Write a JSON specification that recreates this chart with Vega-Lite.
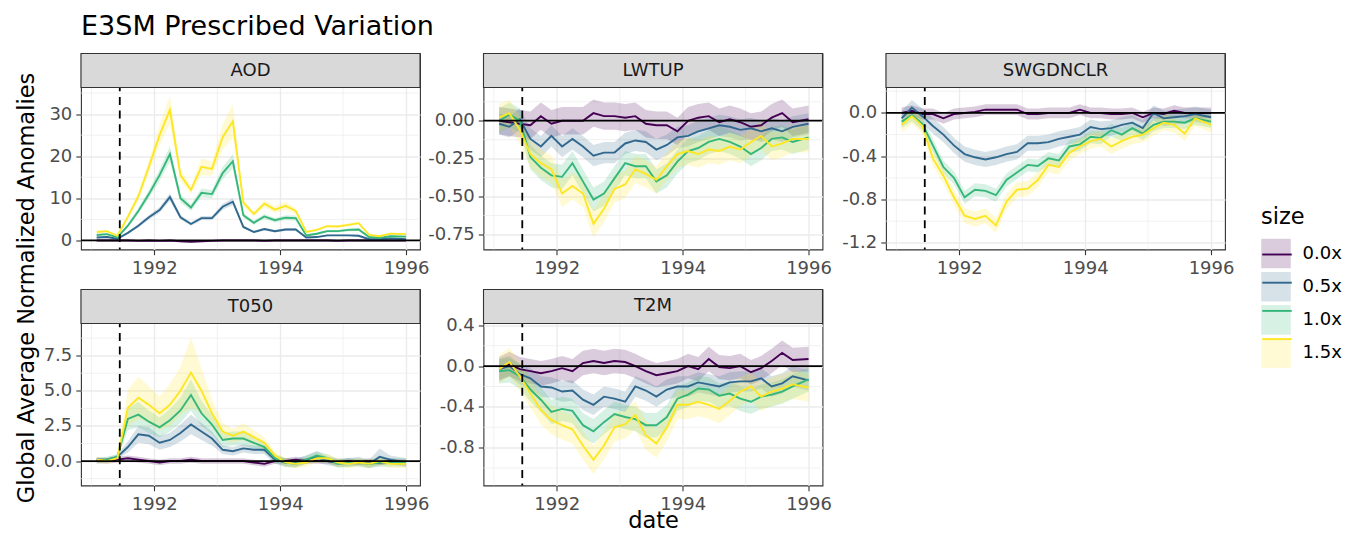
{
  "$schema": "https://vega.github.io/schema/vega-lite/v6.json",
  "background": "white",
  "padding": {"left": 14, "top": 12.5, "right": 5, "bottom": 5},
  "title": {"text": "E3SM Prescribed Variation", "anchor": "start", "frame": "group", "fontSize": 27, "fontWeight": "normal", "color": "black", "offset": 11.5},
  "datasets": {
    "AOD": [
      {"s":"0.0x","t":"1991-02","m":0,"l":-0.25,"h":0.25},{"s":"0.0x","t":"1991-04","m":0,"l":-0.25,"h":0.25},{"s":"0.0x","t":"1991-06","m":0,"l":-0.25,"h":0.25},{"s":"0.0x","t":"1991-08","m":0,"l":-0.25,"h":0.25},{"s":"0.0x","t":"1991-10","m":-0.1,"l":-0.35,"h":0.15},{"s":"0.0x","t":"1991-12","m":0,"l":-0.25,"h":0.25},{"s":"0.0x","t":"1992-02","m":-0.1,"l":-0.35,"h":0.15},{"s":"0.0x","t":"1992-04","m":0,"l":-0.25,"h":0.25},{"s":"0.0x","t":"1992-06","m":-0.2,"l":-0.45,"h":0.05},{"s":"0.0x","t":"1992-08","m":-0.3,"l":-0.55,"h":-0.05},{"s":"0.0x","t":"1992-10","m":-0.2,"l":-0.45,"h":0.05},{"s":"0.0x","t":"1992-12","m":-0.1,"l":-0.35,"h":0.15},{"s":"0.0x","t":"1993-02","m":0,"l":-0.25,"h":0.25},{"s":"0.0x","t":"1993-04","m":0,"l":-0.25,"h":0.25},{"s":"0.0x","t":"1993-06","m":0,"l":-0.25,"h":0.25},{"s":"0.0x","t":"1993-08","m":0,"l":-0.25,"h":0.25},{"s":"0.0x","t":"1993-10","m":-0.1,"l":-0.35,"h":0.15},{"s":"0.0x","t":"1993-12","m":0,"l":-0.25,"h":0.25},{"s":"0.0x","t":"1994-02","m":0,"l":-0.25,"h":0.25},{"s":"0.0x","t":"1994-04","m":0,"l":-0.25,"h":0.25},{"s":"0.0x","t":"1994-06","m":0,"l":-0.25,"h":0.25},{"s":"0.0x","t":"1994-08","m":0,"l":-0.25,"h":0.25},{"s":"0.0x","t":"1994-10","m":0,"l":-0.25,"h":0.25},{"s":"0.0x","t":"1994-12","m":-0.1,"l":-0.35,"h":0.15},{"s":"0.0x","t":"1995-02","m":0,"l":-0.25,"h":0.25},{"s":"0.0x","t":"1995-04","m":0,"l":-0.25,"h":0.25},{"s":"0.0x","t":"1995-06","m":0,"l":-0.25,"h":0.25},{"s":"0.0x","t":"1995-08","m":0,"l":-0.25,"h":0.25},{"s":"0.0x","t":"1995-10","m":0,"l":-0.25,"h":0.25},{"s":"0.0x","t":"1996-01","m":0,"l":-0.25,"h":0.25},
      {"s":"0.5x","t":"1991-02","m":0.7,"l":0.5,"h":0.9},{"s":"0.5x","t":"1991-04","m":0.8,"l":0.6,"h":1.0},{"s":"0.5x","t":"1991-06","m":0.4,"l":0.22,"h":0.58},{"s":"0.5x","t":"1991-08","m":1.8,"l":1.52,"h":2.08},{"s":"0.5x","t":"1991-10","m":3.5,"l":3.1,"h":3.9},{"s":"0.5x","t":"1991-12","m":5.5,"l":4.95,"h":6.05},{"s":"0.5x","t":"1992-02","m":7.2,"l":6.55,"h":7.85},{"s":"0.5x","t":"1992-04","m":10.3,"l":9.4,"h":11.2},{"s":"0.5x","t":"1992-06","m":5.5,"l":4.95,"h":6.05},{"s":"0.5x","t":"1992-08","m":3.9,"l":3.48,"h":4.32},{"s":"0.5x","t":"1992-10","m":5.3,"l":4.78,"h":5.82},{"s":"0.5x","t":"1992-12","m":5.3,"l":4.78,"h":5.82},{"s":"0.5x","t":"1993-02","m":8,"l":7.3,"h":8.7},{"s":"0.5x","t":"1993-04","m":9.2,"l":8.4,"h":10},{"s":"0.5x","t":"1993-06","m":3.2,"l":2.83,"h":3.57},{"s":"0.5x","t":"1993-08","m":2,"l":1.71,"h":2.29},{"s":"0.5x","t":"1993-10","m":2.7,"l":2.36,"h":3.04},{"s":"0.5x","t":"1993-12","m":2.2,"l":1.9,"h":2.5},{"s":"0.5x","t":"1994-02","m":2.6,"l":2.27,"h":2.93},{"s":"0.5x","t":"1994-04","m":2.6,"l":2.27,"h":2.93},{"s":"0.5x","t":"1994-06","m":0.7,"l":0.5,"h":0.9},{"s":"0.5x","t":"1994-08","m":0.8,"l":0.6,"h":1.0},{"s":"0.5x","t":"1994-10","m":1.2,"l":0.97,"h":1.43},{"s":"0.5x","t":"1994-12","m":1.2,"l":0.97,"h":1.43},{"s":"0.5x","t":"1995-02","m":1.2,"l":0.97,"h":1.43},{"s":"0.5x","t":"1995-04","m":1.1,"l":0.87,"h":1.33},{"s":"0.5x","t":"1995-06","m":0.3,"l":0.13,"h":0.47},{"s":"0.5x","t":"1995-08","m":0.3,"l":0.13,"h":0.47},{"s":"0.5x","t":"1995-10","m":0.5,"l":0.31,"h":0.69},{"s":"0.5x","t":"1996-01","m":0.3,"l":0.13,"h":0.47},
      {"s":"1.0x","t":"1991-02","m":1.3,"l":1.05,"h":1.55},{"s":"1.0x","t":"1991-04","m":1.5,"l":1.23,"h":1.77},{"s":"1.0x","t":"1991-06","m":0.7,"l":0.5,"h":0.9},{"s":"1.0x","t":"1991-08","m":3.5,"l":3.05,"h":3.95},{"s":"1.0x","t":"1991-10","m":7,"l":6.3,"h":7.7},{"s":"1.0x","t":"1991-12","m":11,"l":10,"h":12},{"s":"1.0x","t":"1992-02","m":15.5,"l":14.1,"h":16.9},{"s":"1.0x","t":"1992-04","m":20.5,"l":18.7,"h":22.3},{"s":"1.0x","t":"1992-06","m":10,"l":9.05,"h":10.95},{"s":"1.0x","t":"1992-08","m":7.8,"l":7,"h":8.6},{"s":"1.0x","t":"1992-10","m":11.3,"l":10.25,"h":12.35},{"s":"1.0x","t":"1992-12","m":11,"l":10,"h":12},{"s":"1.0x","t":"1993-02","m":16,"l":14.55,"h":17.45},{"s":"1.0x","t":"1993-04","m":18.8,"l":17.15,"h":20.45},{"s":"1.0x","t":"1993-06","m":6,"l":5.4,"h":6.6},{"s":"1.0x","t":"1993-08","m":4.2,"l":3.7,"h":4.7},{"s":"1.0x","t":"1993-10","m":5.7,"l":5.1,"h":6.3},{"s":"1.0x","t":"1993-12","m":4.8,"l":4.25,"h":5.35},{"s":"1.0x","t":"1994-02","m":5.4,"l":4.8,"h":6},{"s":"1.0x","t":"1994-04","m":5.3,"l":4.7,"h":5.9},{"s":"1.0x","t":"1994-06","m":1.2,"l":0.95,"h":1.45},{"s":"1.0x","t":"1994-08","m":1.6,"l":1.3,"h":1.9},{"s":"1.0x","t":"1994-10","m":2.2,"l":1.9,"h":2.5},{"s":"1.0x","t":"1994-12","m":2.2,"l":1.9,"h":2.5},{"s":"1.0x","t":"1995-02","m":2.5,"l":2.15,"h":2.85},{"s":"1.0x","t":"1995-04","m":2.6,"l":2.25,"h":2.95},{"s":"1.0x","t":"1995-06","m":0.8,"l":0.6,"h":1},{"s":"1.0x","t":"1995-08","m":0.6,"l":0.4,"h":0.8},{"s":"1.0x","t":"1995-10","m":1,"l":0.75,"h":1.25},{"s":"1.0x","t":"1996-01","m":0.9,"l":0.7,"h":1.1},
      {"s":"1.5x","t":"1991-02","m":2,"l":1.7,"h":2.3},{"s":"1.5x","t":"1991-04","m":2.2,"l":1.9,"h":2.5},{"s":"1.5x","t":"1991-06","m":1.1,"l":0.9,"h":1.3},{"s":"1.5x","t":"1991-08","m":5.6,"l":5,"h":6.2},{"s":"1.5x","t":"1991-10","m":10.5,"l":9.5,"h":11.5},{"s":"1.5x","t":"1991-12","m":17.5,"l":15.9,"h":19.1},{"s":"1.5x","t":"1992-02","m":25,"l":22.6,"h":27.4},{"s":"1.5x","t":"1992-04","m":31,"l":27.6,"h":34.4},{"s":"1.5x","t":"1992-06","m":15.5,"l":14,"h":17},{"s":"1.5x","t":"1992-08","m":12,"l":11,"h":13},{"s":"1.5x","t":"1992-10","m":17.5,"l":15.5,"h":19.5},{"s":"1.5x","t":"1992-12","m":17,"l":15.3,"h":18.7},{"s":"1.5x","t":"1993-02","m":24.5,"l":21.5,"h":27.5},{"s":"1.5x","t":"1993-04","m":28.3,"l":24.3,"h":32.3},{"s":"1.5x","t":"1993-06","m":9,"l":8.1,"h":9.9},{"s":"1.5x","t":"1993-08","m":6.3,"l":5.7,"h":6.9},{"s":"1.5x","t":"1993-10","m":8.7,"l":7.8,"h":9.6},{"s":"1.5x","t":"1993-12","m":7.3,"l":6.5,"h":8.1},{"s":"1.5x","t":"1994-02","m":8.2,"l":7.2,"h":9.2},{"s":"1.5x","t":"1994-04","m":7,"l":6.3,"h":7.7},{"s":"1.5x","t":"1994-06","m":2,"l":1.7,"h":2.3},{"s":"1.5x","t":"1994-08","m":2.5,"l":2.2,"h":2.8},{"s":"1.5x","t":"1994-10","m":3.4,"l":3.1,"h":3.7},{"s":"1.5x","t":"1994-12","m":3.3,"l":3,"h":3.6},{"s":"1.5x","t":"1995-02","m":3.7,"l":3.3,"h":4.1},{"s":"1.5x","t":"1995-04","m":4.1,"l":3.7,"h":4.5},{"s":"1.5x","t":"1995-06","m":1.3,"l":1.1,"h":1.5},{"s":"1.5x","t":"1995-08","m":1,"l":0.8,"h":1.2},{"s":"1.5x","t":"1995-10","m":1.6,"l":1.4,"h":1.8},{"s":"1.5x","t":"1996-01","m":1.5,"l":1.3,"h":1.7}
    ],
    "LWTUP": [
      {"s":"0.0x","t":"1991-02","m":0,"l":-0.09,"h":0.09},{"s":"0.0x","t":"1991-04","m":-0.01,"l":-0.1,"h":0.08},{"s":"0.0x","t":"1991-06","m":-0.02,"l":-0.11,"h":0.07},{"s":"0.0x","t":"1991-08","m":-0.03,"l":-0.12,"h":0.06},{"s":"0.0x","t":"1991-10","m":0.03,"l":-0.06,"h":0.12},{"s":"0.0x","t":"1991-12","m":-0.02,"l":-0.11,"h":0.07},{"s":"0.0x","t":"1992-02","m":0,"l":-0.09,"h":0.09},{"s":"0.0x","t":"1992-04","m":0,"l":-0.09,"h":0.09},{"s":"0.0x","t":"1992-06","m":0,"l":-0.09,"h":0.09},{"s":"0.0x","t":"1992-08","m":0.05,"l":-0.04,"h":0.14},{"s":"0.0x","t":"1992-10","m":0.03,"l":-0.06,"h":0.12},{"s":"0.0x","t":"1992-12","m":0.03,"l":-0.06,"h":0.12},{"s":"0.0x","t":"1993-02","m":0.02,"l":-0.07,"h":0.11},{"s":"0.0x","t":"1993-04","m":0.03,"l":-0.06,"h":0.12},{"s":"0.0x","t":"1993-06","m":-0.02,"l":-0.11,"h":0.07},{"s":"0.0x","t":"1993-08","m":-0.03,"l":-0.12,"h":0.06},{"s":"0.0x","t":"1993-10","m":-0.03,"l":-0.12,"h":0.06},{"s":"0.0x","t":"1993-12","m":-0.07,"l":-0.16,"h":0.02},{"s":"0.0x","t":"1994-02","m":0,"l":-0.09,"h":0.09},{"s":"0.0x","t":"1994-04","m":0.02,"l":-0.07,"h":0.11},{"s":"0.0x","t":"1994-06","m":0.03,"l":-0.06,"h":0.12},{"s":"0.0x","t":"1994-08","m":-0.01,"l":-0.1,"h":0.08},{"s":"0.0x","t":"1994-10","m":0.01,"l":-0.08,"h":0.1},{"s":"0.0x","t":"1994-12","m":-0.01,"l":-0.1,"h":0.08},{"s":"0.0x","t":"1995-02","m":-0.04,"l":-0.13,"h":0.05},{"s":"0.0x","t":"1995-04","m":-0.03,"l":-0.12,"h":0.06},{"s":"0.0x","t":"1995-06","m":0.02,"l":-0.07,"h":0.11},{"s":"0.0x","t":"1995-08","m":0.05,"l":-0.04,"h":0.14},{"s":"0.0x","t":"1995-10","m":-0.01,"l":-0.1,"h":0.08},{"s":"0.0x","t":"1996-01","m":0.01,"l":-0.08,"h":0.1},
      {"s":"0.5x","t":"1991-02","m":-0.02,"l":-0.09,"h":0.05},{"s":"0.5x","t":"1991-04","m":-0.04,"l":-0.11,"h":0.03},{"s":"0.5x","t":"1991-06","m":0.01,"l":-0.06,"h":0.08},{"s":"0.5x","t":"1991-08","m":-0.12,"l":-0.19,"h":-0.05},{"s":"0.5x","t":"1991-10","m":-0.17,"l":-0.24,"h":-0.1},{"s":"0.5x","t":"1991-12","m":-0.1,"l":-0.17,"h":-0.03},{"s":"0.5x","t":"1992-02","m":-0.17,"l":-0.24,"h":-0.1},{"s":"0.5x","t":"1992-04","m":-0.12,"l":-0.19,"h":-0.05},{"s":"0.5x","t":"1992-06","m":-0.17,"l":-0.24,"h":-0.1},{"s":"0.5x","t":"1992-08","m":-0.23,"l":-0.3,"h":-0.16},{"s":"0.5x","t":"1992-10","m":-0.21,"l":-0.28,"h":-0.14},{"s":"0.5x","t":"1992-12","m":-0.21,"l":-0.28,"h":-0.14},{"s":"0.5x","t":"1993-02","m":-0.15,"l":-0.22,"h":-0.08},{"s":"0.5x","t":"1993-04","m":-0.13,"l":-0.2,"h":-0.06},{"s":"0.5x","t":"1993-06","m":-0.14,"l":-0.21,"h":-0.07},{"s":"0.5x","t":"1993-08","m":-0.19,"l":-0.26,"h":-0.12},{"s":"0.5x","t":"1993-10","m":-0.16,"l":-0.23,"h":-0.09},{"s":"0.5x","t":"1993-12","m":-0.11,"l":-0.18,"h":-0.04},{"s":"0.5x","t":"1994-02","m":-0.1,"l":-0.17,"h":-0.03},{"s":"0.5x","t":"1994-04","m":-0.07,"l":-0.14,"h":0},{"s":"0.5x","t":"1994-06","m":-0.05,"l":-0.12,"h":0.02},{"s":"0.5x","t":"1994-08","m":-0.03,"l":-0.1,"h":0.04},{"s":"0.5x","t":"1994-10","m":-0.04,"l":-0.11,"h":0.03},{"s":"0.5x","t":"1994-12","m":-0.06,"l":-0.13,"h":0.01},{"s":"0.5x","t":"1995-02","m":-0.05,"l":-0.12,"h":0.02},{"s":"0.5x","t":"1995-04","m":-0.07,"l":-0.14,"h":0},{"s":"0.5x","t":"1995-06","m":-0.05,"l":-0.12,"h":0.02},{"s":"0.5x","t":"1995-08","m":-0.07,"l":-0.14,"h":0},{"s":"0.5x","t":"1995-10","m":-0.04,"l":-0.11,"h":0.03},{"s":"0.5x","t":"1996-01","m":-0.02,"l":-0.09,"h":0.05},
      {"s":"1.0x","t":"1991-02","m":0,"l":-0.08,"h":0.08},{"s":"1.0x","t":"1991-04","m":0.04,"l":-0.04,"h":0.12},{"s":"1.0x","t":"1991-06","m":0,"l":-0.08,"h":0.08},{"s":"1.0x","t":"1991-08","m":-0.24,"l":-0.32,"h":-0.16},{"s":"1.0x","t":"1991-10","m":-0.31,"l":-0.39,"h":-0.23},{"s":"1.0x","t":"1991-12","m":-0.36,"l":-0.44,"h":-0.28},{"s":"1.0x","t":"1992-02","m":-0.37,"l":-0.45,"h":-0.29},{"s":"1.0x","t":"1992-04","m":-0.28,"l":-0.36,"h":-0.2},{"s":"1.0x","t":"1992-06","m":-0.4,"l":-0.48,"h":-0.32},{"s":"1.0x","t":"1992-08","m":-0.52,"l":-0.6,"h":-0.44},{"s":"1.0x","t":"1992-10","m":-0.48,"l":-0.56,"h":-0.4},{"s":"1.0x","t":"1992-12","m":-0.38,"l":-0.46,"h":-0.3},{"s":"1.0x","t":"1993-02","m":-0.28,"l":-0.36,"h":-0.2},{"s":"1.0x","t":"1993-04","m":-0.3,"l":-0.38,"h":-0.22},{"s":"1.0x","t":"1993-06","m":-0.3,"l":-0.38,"h":-0.22},{"s":"1.0x","t":"1993-08","m":-0.4,"l":-0.48,"h":-0.32},{"s":"1.0x","t":"1993-10","m":-0.36,"l":-0.44,"h":-0.28},{"s":"1.0x","t":"1993-12","m":-0.27,"l":-0.35,"h":-0.19},{"s":"1.0x","t":"1994-02","m":-0.2,"l":-0.28,"h":-0.12},{"s":"1.0x","t":"1994-04","m":-0.18,"l":-0.26,"h":-0.1},{"s":"1.0x","t":"1994-06","m":-0.14,"l":-0.22,"h":-0.06},{"s":"1.0x","t":"1994-08","m":-0.12,"l":-0.2,"h":-0.04},{"s":"1.0x","t":"1994-10","m":-0.14,"l":-0.22,"h":-0.06},{"s":"1.0x","t":"1994-12","m":-0.17,"l":-0.25,"h":-0.09},{"s":"1.0x","t":"1995-02","m":-0.22,"l":-0.3,"h":-0.14},{"s":"1.0x","t":"1995-04","m":-0.18,"l":-0.26,"h":-0.1},{"s":"1.0x","t":"1995-06","m":-0.12,"l":-0.2,"h":-0.04},{"s":"1.0x","t":"1995-08","m":-0.11,"l":-0.19,"h":-0.03},{"s":"1.0x","t":"1995-10","m":-0.14,"l":-0.22,"h":-0.06},{"s":"1.0x","t":"1996-01","m":-0.11,"l":-0.19,"h":-0.03},
      {"s":"1.5x","t":"1991-02","m":0.02,"l":-0.07,"h":0.11},{"s":"1.5x","t":"1991-04","m":0.05,"l":-0.04,"h":0.14},{"s":"1.5x","t":"1991-06","m":-0.06,"l":-0.15,"h":0.03},{"s":"1.5x","t":"1991-08","m":-0.22,"l":-0.31,"h":-0.13},{"s":"1.5x","t":"1991-10","m":-0.28,"l":-0.37,"h":-0.19},{"s":"1.5x","t":"1991-12","m":-0.32,"l":-0.41,"h":-0.23},{"s":"1.5x","t":"1992-02","m":-0.48,"l":-0.57,"h":-0.39},{"s":"1.5x","t":"1992-04","m":-0.43,"l":-0.52,"h":-0.34},{"s":"1.5x","t":"1992-06","m":-0.48,"l":-0.57,"h":-0.39},{"s":"1.5x","t":"1992-08","m":-0.68,"l":-0.77,"h":-0.59},{"s":"1.5x","t":"1992-10","m":-0.58,"l":-0.67,"h":-0.49},{"s":"1.5x","t":"1992-12","m":-0.45,"l":-0.54,"h":-0.36},{"s":"1.5x","t":"1993-02","m":-0.42,"l":-0.51,"h":-0.33},{"s":"1.5x","t":"1993-04","m":-0.32,"l":-0.41,"h":-0.23},{"s":"1.5x","t":"1993-06","m":-0.35,"l":-0.44,"h":-0.26},{"s":"1.5x","t":"1993-08","m":-0.39,"l":-0.48,"h":-0.3},{"s":"1.5x","t":"1993-10","m":-0.3,"l":-0.39,"h":-0.21},{"s":"1.5x","t":"1993-12","m":-0.22,"l":-0.31,"h":-0.13},{"s":"1.5x","t":"1994-02","m":-0.2,"l":-0.29,"h":-0.11},{"s":"1.5x","t":"1994-04","m":-0.22,"l":-0.31,"h":-0.13},{"s":"1.5x","t":"1994-06","m":-0.19,"l":-0.28,"h":-0.1},{"s":"1.5x","t":"1994-08","m":-0.2,"l":-0.29,"h":-0.11},{"s":"1.5x","t":"1994-10","m":-0.17,"l":-0.26,"h":-0.08},{"s":"1.5x","t":"1994-12","m":-0.19,"l":-0.28,"h":-0.1},{"s":"1.5x","t":"1995-02","m":-0.14,"l":-0.23,"h":-0.05},{"s":"1.5x","t":"1995-04","m":-0.1,"l":-0.19,"h":-0.01},{"s":"1.5x","t":"1995-06","m":-0.17,"l":-0.26,"h":-0.08},{"s":"1.5x","t":"1995-08","m":-0.15,"l":-0.24,"h":-0.06},{"s":"1.5x","t":"1995-10","m":-0.12,"l":-0.21,"h":-0.03},{"s":"1.5x","t":"1996-01","m":-0.12,"l":-0.21,"h":-0.03}
    ],
    "SWGDNCLR": [
      {"s":"0.0x","t":"1991-02","m":0,"l":-0.05,"h":0.05},{"s":"0.0x","t":"1991-04","m":0.02,"l":-0.03,"h":0.07},{"s":"0.0x","t":"1991-06","m":-0.01,"l":-0.06,"h":0.04},{"s":"0.0x","t":"1991-08","m":-0.01,"l":-0.06,"h":0.04},{"s":"0.0x","t":"1991-10","m":-0.05,"l":-0.1,"h":0},{"s":"0.0x","t":"1991-12","m":-0.01,"l":-0.06,"h":0.04},{"s":"0.0x","t":"1992-02","m":0,"l":-0.05,"h":0.05},{"s":"0.0x","t":"1992-04","m":0.01,"l":-0.04,"h":0.06},{"s":"0.0x","t":"1992-06","m":0.03,"l":-0.02,"h":0.08},{"s":"0.0x","t":"1992-08","m":0.03,"l":-0.02,"h":0.08},{"s":"0.0x","t":"1992-10","m":0.03,"l":-0.02,"h":0.08},{"s":"0.0x","t":"1992-12","m":0.03,"l":-0.02,"h":0.08},{"s":"0.0x","t":"1993-02","m":-0.01,"l":-0.06,"h":0.04},{"s":"0.0x","t":"1993-04","m":-0.01,"l":-0.06,"h":0.04},{"s":"0.0x","t":"1993-06","m":0,"l":-0.05,"h":0.05},{"s":"0.0x","t":"1993-08","m":0,"l":-0.05,"h":0.05},{"s":"0.0x","t":"1993-10","m":0,"l":-0.05,"h":0.05},{"s":"0.0x","t":"1993-12","m":0.03,"l":-0.02,"h":0.08},{"s":"0.0x","t":"1994-02","m":0,"l":-0.05,"h":0.05},{"s":"0.0x","t":"1994-04","m":0,"l":-0.05,"h":0.05},{"s":"0.0x","t":"1994-06","m":-0.01,"l":-0.06,"h":0.04},{"s":"0.0x","t":"1994-08","m":-0.01,"l":-0.06,"h":0.04},{"s":"0.0x","t":"1994-10","m":0,"l":-0.05,"h":0.05},{"s":"0.0x","t":"1994-12","m":-0.04,"l":-0.09,"h":0.01},{"s":"0.0x","t":"1995-02","m":0,"l":-0.05,"h":0.05},{"s":"0.0x","t":"1995-04","m":-0.01,"l":-0.06,"h":0.04},{"s":"0.0x","t":"1995-06","m":0.02,"l":-0.03,"h":0.07},{"s":"0.0x","t":"1995-08","m":0,"l":-0.05,"h":0.05},{"s":"0.0x","t":"1995-10","m":0,"l":-0.05,"h":0.05},{"s":"0.0x","t":"1996-01","m":0,"l":-0.05,"h":0.05},
      {"s":"0.5x","t":"1991-02","m":-0.05,"l":-0.12,"h":0.02},{"s":"0.5x","t":"1991-04","m":0.05,"l":-0.02,"h":0.12},{"s":"0.5x","t":"1991-06","m":-0.03,"l":-0.1,"h":0.04},{"s":"0.5x","t":"1991-08","m":-0.12,"l":-0.19,"h":-0.05},{"s":"0.5x","t":"1991-10","m":-0.2,"l":-0.27,"h":-0.13},{"s":"0.5x","t":"1991-12","m":-0.3,"l":-0.37,"h":-0.23},{"s":"0.5x","t":"1992-02","m":-0.38,"l":-0.45,"h":-0.31},{"s":"0.5x","t":"1992-04","m":-0.41,"l":-0.48,"h":-0.34},{"s":"0.5x","t":"1992-06","m":-0.43,"l":-0.5,"h":-0.36},{"s":"0.5x","t":"1992-08","m":-0.41,"l":-0.48,"h":-0.34},{"s":"0.5x","t":"1992-10","m":-0.38,"l":-0.45,"h":-0.31},{"s":"0.5x","t":"1992-12","m":-0.36,"l":-0.43,"h":-0.29},{"s":"0.5x","t":"1993-02","m":-0.28,"l":-0.35,"h":-0.21},{"s":"0.5x","t":"1993-04","m":-0.28,"l":-0.35,"h":-0.21},{"s":"0.5x","t":"1993-06","m":-0.27,"l":-0.34,"h":-0.2},{"s":"0.5x","t":"1993-08","m":-0.24,"l":-0.31,"h":-0.17},{"s":"0.5x","t":"1993-10","m":-0.22,"l":-0.29,"h":-0.15},{"s":"0.5x","t":"1993-12","m":-0.2,"l":-0.27,"h":-0.13},{"s":"0.5x","t":"1994-02","m":-0.13,"l":-0.2,"h":-0.06},{"s":"0.5x","t":"1994-04","m":-0.15,"l":-0.22,"h":-0.08},{"s":"0.5x","t":"1994-06","m":-0.14,"l":-0.21,"h":-0.07},{"s":"0.5x","t":"1994-08","m":-0.11,"l":-0.18,"h":-0.04},{"s":"0.5x","t":"1994-10","m":-0.09,"l":-0.16,"h":-0.02},{"s":"0.5x","t":"1994-12","m":-0.14,"l":-0.21,"h":-0.07},{"s":"0.5x","t":"1995-02","m":0,"l":-0.07,"h":0.07},{"s":"0.5x","t":"1995-04","m":-0.05,"l":-0.12,"h":0.02},{"s":"0.5x","t":"1995-06","m":-0.04,"l":-0.11,"h":0.03},{"s":"0.5x","t":"1995-08","m":-0.03,"l":-0.1,"h":0.04},{"s":"0.5x","t":"1995-10","m":-0.01,"l":-0.08,"h":0.06},{"s":"0.5x","t":"1996-01","m":-0.04,"l":-0.11,"h":0.03},
      {"s":"1.0x","t":"1991-02","m":-0.08,"l":-0.14,"h":-0.02},{"s":"1.0x","t":"1991-04","m":-0.02,"l":-0.08,"h":0.04},{"s":"1.0x","t":"1991-06","m":-0.1,"l":-0.16,"h":-0.04},{"s":"1.0x","t":"1991-08","m":-0.3,"l":-0.36,"h":-0.24},{"s":"1.0x","t":"1991-10","m":-0.5,"l":-0.56,"h":-0.44},{"s":"1.0x","t":"1991-12","m":-0.6,"l":-0.66,"h":-0.54},{"s":"1.0x","t":"1992-02","m":-0.78,"l":-0.84,"h":-0.72},{"s":"1.0x","t":"1992-04","m":-0.71,"l":-0.77,"h":-0.65},{"s":"1.0x","t":"1992-06","m":-0.72,"l":-0.78,"h":-0.66},{"s":"1.0x","t":"1992-08","m":-0.76,"l":-0.82,"h":-0.7},{"s":"1.0x","t":"1992-10","m":-0.62,"l":-0.68,"h":-0.56},{"s":"1.0x","t":"1992-12","m":-0.55,"l":-0.61,"h":-0.49},{"s":"1.0x","t":"1993-02","m":-0.48,"l":-0.54,"h":-0.42},{"s":"1.0x","t":"1993-04","m":-0.49,"l":-0.55,"h":-0.43},{"s":"1.0x","t":"1993-06","m":-0.42,"l":-0.48,"h":-0.36},{"s":"1.0x","t":"1993-08","m":-0.44,"l":-0.5,"h":-0.38},{"s":"1.0x","t":"1993-10","m":-0.31,"l":-0.37,"h":-0.25},{"s":"1.0x","t":"1993-12","m":-0.29,"l":-0.35,"h":-0.23},{"s":"1.0x","t":"1994-02","m":-0.22,"l":-0.28,"h":-0.16},{"s":"1.0x","t":"1994-04","m":-0.23,"l":-0.29,"h":-0.17},{"s":"1.0x","t":"1994-06","m":-0.16,"l":-0.22,"h":-0.1},{"s":"1.0x","t":"1994-08","m":-0.2,"l":-0.26,"h":-0.14},{"s":"1.0x","t":"1994-10","m":-0.14,"l":-0.2,"h":-0.08},{"s":"1.0x","t":"1994-12","m":-0.19,"l":-0.25,"h":-0.13},{"s":"1.0x","t":"1995-02","m":-0.11,"l":-0.17,"h":-0.05},{"s":"1.0x","t":"1995-04","m":-0.08,"l":-0.14,"h":-0.02},{"s":"1.0x","t":"1995-06","m":-0.08,"l":-0.14,"h":-0.02},{"s":"1.0x","t":"1995-08","m":-0.09,"l":-0.15,"h":-0.03},{"s":"1.0x","t":"1995-10","m":-0.05,"l":-0.11,"h":0.01},{"s":"1.0x","t":"1996-01","m":-0.08,"l":-0.14,"h":-0.02},
      {"s":"1.5x","t":"1991-02","m":-0.11,"l":-0.18,"h":-0.04},{"s":"1.5x","t":"1991-04","m":-0.03,"l":-0.1,"h":0.04},{"s":"1.5x","t":"1991-06","m":-0.12,"l":-0.19,"h":-0.05},{"s":"1.5x","t":"1991-08","m":-0.42,"l":-0.49,"h":-0.35},{"s":"1.5x","t":"1991-10","m":-0.58,"l":-0.65,"h":-0.51},{"s":"1.5x","t":"1991-12","m":-0.78,"l":-0.85,"h":-0.71},{"s":"1.5x","t":"1992-02","m":-0.95,"l":-1.02,"h":-0.88},{"s":"1.5x","t":"1992-04","m":-0.98,"l":-1.05,"h":-0.91},{"s":"1.5x","t":"1992-06","m":-0.95,"l":-1.02,"h":-0.88},{"s":"1.5x","t":"1992-08","m":-1.04,"l":-1.11,"h":-0.97},{"s":"1.5x","t":"1992-10","m":-0.82,"l":-0.89,"h":-0.75},{"s":"1.5x","t":"1992-12","m":-0.71,"l":-0.78,"h":-0.64},{"s":"1.5x","t":"1993-02","m":-0.7,"l":-0.77,"h":-0.63},{"s":"1.5x","t":"1993-04","m":-0.62,"l":-0.69,"h":-0.55},{"s":"1.5x","t":"1993-06","m":-0.48,"l":-0.55,"h":-0.41},{"s":"1.5x","t":"1993-08","m":-0.5,"l":-0.57,"h":-0.43},{"s":"1.5x","t":"1993-10","m":-0.37,"l":-0.44,"h":-0.3},{"s":"1.5x","t":"1993-12","m":-0.31,"l":-0.38,"h":-0.24},{"s":"1.5x","t":"1994-02","m":-0.26,"l":-0.33,"h":-0.19},{"s":"1.5x","t":"1994-04","m":-0.24,"l":-0.31,"h":-0.17},{"s":"1.5x","t":"1994-06","m":-0.31,"l":-0.38,"h":-0.24},{"s":"1.5x","t":"1994-08","m":-0.26,"l":-0.33,"h":-0.19},{"s":"1.5x","t":"1994-10","m":-0.22,"l":-0.29,"h":-0.15},{"s":"1.5x","t":"1994-12","m":-0.2,"l":-0.27,"h":-0.13},{"s":"1.5x","t":"1995-02","m":-0.14,"l":-0.21,"h":-0.07},{"s":"1.5x","t":"1995-04","m":-0.09,"l":-0.16,"h":-0.02},{"s":"1.5x","t":"1995-06","m":-0.11,"l":-0.18,"h":-0.04},{"s":"1.5x","t":"1995-08","m":-0.19,"l":-0.26,"h":-0.12},{"s":"1.5x","t":"1995-10","m":-0.05,"l":-0.12,"h":0.02},{"s":"1.5x","t":"1996-01","m":-0.11,"l":-0.18,"h":-0.04}
    ],
    "T050": [
      {"s":"0.0x","t":"1991-02","m":0.05,"l":-0.15,"h":0.25},{"s":"0.0x","t":"1991-04","m":0,"l":-0.2,"h":0.2},{"s":"0.0x","t":"1991-06","m":0.1,"l":-0.1,"h":0.3},{"s":"0.0x","t":"1991-08","m":0.2,"l":0,"h":0.4},{"s":"0.0x","t":"1991-10","m":0.1,"l":-0.1,"h":0.3},{"s":"0.0x","t":"1991-12","m":0,"l":-0.2,"h":0.2},{"s":"0.0x","t":"1992-02","m":-0.1,"l":-0.3,"h":0.1},{"s":"0.0x","t":"1992-04","m":0,"l":-0.2,"h":0.2},{"s":"0.0x","t":"1992-06","m":0,"l":-0.2,"h":0.2},{"s":"0.0x","t":"1992-08","m":0.1,"l":-0.1,"h":0.3},{"s":"0.0x","t":"1992-10","m":0,"l":-0.2,"h":0.2},{"s":"0.0x","t":"1992-12","m":0,"l":-0.2,"h":0.2},{"s":"0.0x","t":"1993-02","m":0,"l":-0.2,"h":0.2},{"s":"0.0x","t":"1993-04","m":0,"l":-0.2,"h":0.2},{"s":"0.0x","t":"1993-06","m":0,"l":-0.2,"h":0.2},{"s":"0.0x","t":"1993-08","m":-0.1,"l":-0.3,"h":0.1},{"s":"0.0x","t":"1993-10","m":-0.2,"l":-0.4,"h":0},{"s":"0.0x","t":"1993-12","m":0,"l":-0.2,"h":0.2},{"s":"0.0x","t":"1994-02","m":0,"l":-0.2,"h":0.2},{"s":"0.0x","t":"1994-04","m":0.1,"l":-0.1,"h":0.3},{"s":"0.0x","t":"1994-06","m":0,"l":-0.2,"h":0.2},{"s":"0.0x","t":"1994-08","m":0,"l":-0.2,"h":0.2},{"s":"0.0x","t":"1994-10","m":0,"l":-0.2,"h":0.2},{"s":"0.0x","t":"1994-12","m":-0.1,"l":-0.3,"h":0.1},{"s":"0.0x","t":"1995-02","m":0,"l":-0.2,"h":0.2},{"s":"0.0x","t":"1995-04","m":-0.1,"l":-0.3,"h":0.1},{"s":"0.0x","t":"1995-06","m":0,"l":-0.2,"h":0.2},{"s":"0.0x","t":"1995-08","m":-0.1,"l":-0.3,"h":0.1},{"s":"0.0x","t":"1995-10","m":0,"l":-0.2,"h":0.2},{"s":"0.0x","t":"1996-01","m":-0.1,"l":-0.3,"h":0.1},
      {"s":"0.5x","t":"1991-02","m":0.1,"l":-0.05,"h":0.25},{"s":"0.5x","t":"1991-04","m":0.1,"l":-0.05,"h":0.25},{"s":"0.5x","t":"1991-06","m":0.3,"l":0.15,"h":0.45},{"s":"0.5x","t":"1991-08","m":1,"l":0.6,"h":1.4},{"s":"0.5x","t":"1991-10","m":1.9,"l":1.3,"h":2.5},{"s":"0.5x","t":"1991-12","m":1.8,"l":1.2,"h":2.4},{"s":"0.5x","t":"1992-02","m":1.3,"l":0.8,"h":1.8},{"s":"0.5x","t":"1992-04","m":1.5,"l":1,"h":2},{"s":"0.5x","t":"1992-06","m":2,"l":1.4,"h":2.6},{"s":"0.5x","t":"1992-08","m":2.6,"l":1.9,"h":3.3},{"s":"0.5x","t":"1992-10","m":2.1,"l":1.5,"h":2.7},{"s":"0.5x","t":"1992-12","m":1.6,"l":1.1,"h":2.1},{"s":"0.5x","t":"1993-02","m":0.8,"l":0.5,"h":1.1},{"s":"0.5x","t":"1993-04","m":0.7,"l":0.4,"h":1},{"s":"0.5x","t":"1993-06","m":0.9,"l":0.6,"h":1.2},{"s":"0.5x","t":"1993-08","m":0.8,"l":0.5,"h":1.1},{"s":"0.5x","t":"1993-10","m":0.8,"l":0.5,"h":1.1},{"s":"0.5x","t":"1993-12","m":0.1,"l":-0.2,"h":0.4},{"s":"0.5x","t":"1994-02","m":-0.1,"l":-0.4,"h":0.2},{"s":"0.5x","t":"1994-04","m":-0.1,"l":-0.4,"h":0.2},{"s":"0.5x","t":"1994-06","m":0.1,"l":-0.2,"h":0.4},{"s":"0.5x","t":"1994-08","m":0.3,"l":-0.1,"h":0.7},{"s":"0.5x","t":"1994-10","m":0,"l":-0.3,"h":0.3},{"s":"0.5x","t":"1994-12","m":-0.1,"l":-0.4,"h":0.2},{"s":"0.5x","t":"1995-02","m":-0.1,"l":-0.4,"h":0.2},{"s":"0.5x","t":"1995-04","m":0,"l":-0.3,"h":0.3},{"s":"0.5x","t":"1995-06","m":-0.2,"l":-0.5,"h":0.1},{"s":"0.5x","t":"1995-08","m":0.3,"l":-0.3,"h":0.9},{"s":"0.5x","t":"1995-10","m":0.1,"l":-0.2,"h":0.4},{"s":"0.5x","t":"1996-01","m":-0.1,"l":-0.4,"h":0.2},
      {"s":"1.0x","t":"1991-02","m":0,"l":-0.2,"h":0.2},{"s":"1.0x","t":"1991-04","m":0.1,"l":-0.1,"h":0.3},{"s":"1.0x","t":"1991-06","m":0.3,"l":0.1,"h":0.5},{"s":"1.0x","t":"1991-08","m":3,"l":2.2,"h":3.8},{"s":"1.0x","t":"1991-10","m":3.3,"l":2.4,"h":4.2},{"s":"1.0x","t":"1991-12","m":2.8,"l":2,"h":3.6},{"s":"1.0x","t":"1992-02","m":2.4,"l":1.7,"h":3.1},{"s":"1.0x","t":"1992-04","m":2.9,"l":2.1,"h":3.7},{"s":"1.0x","t":"1992-06","m":3.6,"l":2.7,"h":4.5},{"s":"1.0x","t":"1992-08","m":4.7,"l":3.6,"h":5.8},{"s":"1.0x","t":"1992-10","m":3.4,"l":2.5,"h":4.3},{"s":"1.0x","t":"1992-12","m":2.6,"l":1.9,"h":3.3},{"s":"1.0x","t":"1993-02","m":1.5,"l":1,"h":2},{"s":"1.0x","t":"1993-04","m":1.6,"l":1.1,"h":2.1},{"s":"1.0x","t":"1993-06","m":1.6,"l":1.1,"h":2.1},{"s":"1.0x","t":"1993-08","m":1.3,"l":0.9,"h":1.7},{"s":"1.0x","t":"1993-10","m":1,"l":0.6,"h":1.4},{"s":"1.0x","t":"1993-12","m":0.2,"l":-0.1,"h":0.5},{"s":"1.0x","t":"1994-02","m":-0.1,"l":-0.4,"h":0.2},{"s":"1.0x","t":"1994-04","m":-0.2,"l":-0.5,"h":0.1},{"s":"1.0x","t":"1994-06","m":0.1,"l":-0.2,"h":0.4},{"s":"1.0x","t":"1994-08","m":0.4,"l":0.1,"h":0.7},{"s":"1.0x","t":"1994-10","m":0.2,"l":-0.1,"h":0.5},{"s":"1.0x","t":"1994-12","m":-0.2,"l":-0.5,"h":0.1},{"s":"1.0x","t":"1995-02","m":-0.1,"l":-0.4,"h":0.2},{"s":"1.0x","t":"1995-04","m":-0.1,"l":-0.4,"h":0.2},{"s":"1.0x","t":"1995-06","m":-0.2,"l":-0.5,"h":0.1},{"s":"1.0x","t":"1995-08","m":-0.1,"l":-0.4,"h":0.2},{"s":"1.0x","t":"1995-10","m":-0.1,"l":-0.4,"h":0.2},{"s":"1.0x","t":"1996-01","m":-0.1,"l":-0.4,"h":0.2},
      {"s":"1.5x","t":"1991-02","m":0.1,"l":-0.1,"h":0.3},{"s":"1.5x","t":"1991-04","m":0,"l":-0.2,"h":0.2},{"s":"1.5x","t":"1991-06","m":0.2,"l":0,"h":0.4},{"s":"1.5x","t":"1991-08","m":3.8,"l":2.5,"h":5.1},{"s":"1.5x","t":"1991-10","m":4.5,"l":3,"h":6},{"s":"1.5x","t":"1991-12","m":4,"l":2.7,"h":5.3},{"s":"1.5x","t":"1992-02","m":3.4,"l":2.2,"h":4.6},{"s":"1.5x","t":"1992-04","m":4,"l":2.5,"h":5.5},{"s":"1.5x","t":"1992-06","m":5,"l":3.3,"h":6.7},{"s":"1.5x","t":"1992-08","m":6.3,"l":3.8,"h":8.8},{"s":"1.5x","t":"1992-10","m":5,"l":3.4,"h":6.6},{"s":"1.5x","t":"1992-12","m":3.4,"l":2.4,"h":4.4},{"s":"1.5x","t":"1993-02","m":2.1,"l":1.5,"h":2.7},{"s":"1.5x","t":"1993-04","m":1.8,"l":1.3,"h":2.3},{"s":"1.5x","t":"1993-06","m":2.1,"l":1.5,"h":2.7},{"s":"1.5x","t":"1993-08","m":1.7,"l":1.2,"h":2.2},{"s":"1.5x","t":"1993-10","m":1.3,"l":0.9,"h":1.7},{"s":"1.5x","t":"1993-12","m":0.4,"l":0.1,"h":0.7},{"s":"1.5x","t":"1994-02","m":-0.1,"l":-0.4,"h":0.2},{"s":"1.5x","t":"1994-04","m":-0.2,"l":-0.5,"h":0.1},{"s":"1.5x","t":"1994-06","m":-0.1,"l":-0.4,"h":0.2},{"s":"1.5x","t":"1994-08","m":0.2,"l":-0.1,"h":0.5},{"s":"1.5x","t":"1994-10","m":0.2,"l":-0.1,"h":0.5},{"s":"1.5x","t":"1994-12","m":-0.1,"l":-0.4,"h":0.2},{"s":"1.5x","t":"1995-02","m":-0.2,"l":-0.5,"h":0.1},{"s":"1.5x","t":"1995-04","m":-0.1,"l":-0.4,"h":0.2},{"s":"1.5x","t":"1995-06","m":-0.2,"l":-0.5,"h":0.1},{"s":"1.5x","t":"1995-08","m":0,"l":-0.3,"h":0.3},{"s":"1.5x","t":"1995-10","m":-0.2,"l":-0.5,"h":0.1},{"s":"1.5x","t":"1996-01","m":-0.2,"l":-0.5,"h":0.1}
    ],
    "T2M": [
      {"s":"0.0x","t":"1991-02","m":-0.03,"l":-0.15,"h":0.09},{"s":"0.0x","t":"1991-04","m":0.02,"l":-0.1,"h":0.14},{"s":"0.0x","t":"1991-06","m":-0.03,"l":-0.15,"h":0.09},{"s":"0.0x","t":"1991-08","m":-0.05,"l":-0.17,"h":0.07},{"s":"0.0x","t":"1991-10","m":-0.07,"l":-0.19,"h":0.05},{"s":"0.0x","t":"1991-12","m":-0.05,"l":-0.17,"h":0.07},{"s":"0.0x","t":"1992-02","m":-0.02,"l":-0.14,"h":0.1},{"s":"0.0x","t":"1992-04","m":-0.05,"l":-0.17,"h":0.07},{"s":"0.0x","t":"1992-06","m":0.03,"l":-0.09,"h":0.15},{"s":"0.0x","t":"1992-08","m":0.05,"l":-0.07,"h":0.17},{"s":"0.0x","t":"1992-10","m":0.03,"l":-0.09,"h":0.15},{"s":"0.0x","t":"1992-12","m":0.05,"l":-0.07,"h":0.17},{"s":"0.0x","t":"1993-02","m":0.04,"l":-0.08,"h":0.16},{"s":"0.0x","t":"1993-04","m":0,"l":-0.12,"h":0.12},{"s":"0.0x","t":"1993-06","m":-0.05,"l":-0.17,"h":0.07},{"s":"0.0x","t":"1993-08","m":-0.09,"l":-0.21,"h":0.03},{"s":"0.0x","t":"1993-10","m":-0.07,"l":-0.19,"h":0.05},{"s":"0.0x","t":"1993-12","m":-0.05,"l":-0.17,"h":0.07},{"s":"0.0x","t":"1994-02","m":0,"l":-0.12,"h":0.12},{"s":"0.0x","t":"1994-04","m":-0.03,"l":-0.15,"h":0.09},{"s":"0.0x","t":"1994-06","m":0.07,"l":-0.05,"h":0.19},{"s":"0.0x","t":"1994-08","m":-0.01,"l":-0.13,"h":0.11},{"s":"0.0x","t":"1994-10","m":-0.02,"l":-0.14,"h":0.1},{"s":"0.0x","t":"1994-12","m":0,"l":-0.12,"h":0.12},{"s":"0.0x","t":"1995-02","m":-0.06,"l":-0.18,"h":0.06},{"s":"0.0x","t":"1995-04","m":-0.02,"l":-0.14,"h":0.1},{"s":"0.0x","t":"1995-06","m":0.05,"l":-0.07,"h":0.17},{"s":"0.0x","t":"1995-08","m":0.13,"l":0.01,"h":0.25},{"s":"0.0x","t":"1995-10","m":0.06,"l":-0.06,"h":0.18},{"s":"0.0x","t":"1996-01","m":0.07,"l":-0.05,"h":0.19},
      {"s":"0.5x","t":"1991-02","m":-0.03,"l":-0.13,"h":0.07},{"s":"0.5x","t":"1991-04","m":0,"l":-0.1,"h":0.1},{"s":"0.5x","t":"1991-06","m":-0.08,"l":-0.18,"h":0.02},{"s":"0.5x","t":"1991-08","m":-0.12,"l":-0.22,"h":-0.02},{"s":"0.5x","t":"1991-10","m":-0.2,"l":-0.3,"h":-0.1},{"s":"0.5x","t":"1991-12","m":-0.21,"l":-0.31,"h":-0.11},{"s":"0.5x","t":"1992-02","m":-0.25,"l":-0.35,"h":-0.15},{"s":"0.5x","t":"1992-04","m":-0.24,"l":-0.34,"h":-0.14},{"s":"0.5x","t":"1992-06","m":-0.33,"l":-0.43,"h":-0.23},{"s":"0.5x","t":"1992-08","m":-0.38,"l":-0.48,"h":-0.28},{"s":"0.5x","t":"1992-10","m":-0.3,"l":-0.4,"h":-0.2},{"s":"0.5x","t":"1992-12","m":-0.32,"l":-0.42,"h":-0.22},{"s":"0.5x","t":"1993-02","m":-0.35,"l":-0.45,"h":-0.25},{"s":"0.5x","t":"1993-04","m":-0.2,"l":-0.3,"h":-0.1},{"s":"0.5x","t":"1993-06","m":-0.24,"l":-0.34,"h":-0.14},{"s":"0.5x","t":"1993-08","m":-0.3,"l":-0.4,"h":-0.2},{"s":"0.5x","t":"1993-10","m":-0.23,"l":-0.33,"h":-0.13},{"s":"0.5x","t":"1993-12","m":-0.2,"l":-0.3,"h":-0.1},{"s":"0.5x","t":"1994-02","m":-0.2,"l":-0.3,"h":-0.1},{"s":"0.5x","t":"1994-04","m":-0.16,"l":-0.26,"h":-0.06},{"s":"0.5x","t":"1994-06","m":-0.18,"l":-0.28,"h":-0.08},{"s":"0.5x","t":"1994-08","m":-0.2,"l":-0.3,"h":-0.1},{"s":"0.5x","t":"1994-10","m":-0.16,"l":-0.26,"h":-0.06},{"s":"0.5x","t":"1994-12","m":-0.15,"l":-0.25,"h":-0.05},{"s":"0.5x","t":"1995-02","m":-0.15,"l":-0.25,"h":-0.05},{"s":"0.5x","t":"1995-04","m":-0.12,"l":-0.22,"h":-0.02},{"s":"0.5x","t":"1995-06","m":-0.2,"l":-0.3,"h":-0.1},{"s":"0.5x","t":"1995-08","m":-0.17,"l":-0.27,"h":-0.07},{"s":"0.5x","t":"1995-10","m":-0.1,"l":-0.2,"h":0},{"s":"0.5x","t":"1996-01","m":-0.14,"l":-0.24,"h":-0.04},
      {"s":"1.0x","t":"1991-02","m":-0.05,"l":-0.17,"h":0.07},{"s":"1.0x","t":"1991-04","m":-0.04,"l":-0.16,"h":0.08},{"s":"1.0x","t":"1991-06","m":-0.1,"l":-0.22,"h":0.02},{"s":"1.0x","t":"1991-08","m":-0.23,"l":-0.35,"h":-0.11},{"s":"1.0x","t":"1991-10","m":-0.33,"l":-0.45,"h":-0.21},{"s":"1.0x","t":"1991-12","m":-0.45,"l":-0.57,"h":-0.33},{"s":"1.0x","t":"1992-02","m":-0.42,"l":-0.54,"h":-0.3},{"s":"1.0x","t":"1992-04","m":-0.44,"l":-0.56,"h":-0.32},{"s":"1.0x","t":"1992-06","m":-0.58,"l":-0.7,"h":-0.46},{"s":"1.0x","t":"1992-08","m":-0.64,"l":-0.76,"h":-0.52},{"s":"1.0x","t":"1992-10","m":-0.55,"l":-0.67,"h":-0.43},{"s":"1.0x","t":"1992-12","m":-0.47,"l":-0.59,"h":-0.35},{"s":"1.0x","t":"1993-02","m":-0.5,"l":-0.62,"h":-0.38},{"s":"1.0x","t":"1993-04","m":-0.52,"l":-0.64,"h":-0.4},{"s":"1.0x","t":"1993-06","m":-0.58,"l":-0.7,"h":-0.46},{"s":"1.0x","t":"1993-08","m":-0.58,"l":-0.7,"h":-0.46},{"s":"1.0x","t":"1993-10","m":-0.5,"l":-0.62,"h":-0.38},{"s":"1.0x","t":"1993-12","m":-0.32,"l":-0.44,"h":-0.2},{"s":"1.0x","t":"1994-02","m":-0.28,"l":-0.4,"h":-0.16},{"s":"1.0x","t":"1994-04","m":-0.22,"l":-0.34,"h":-0.1},{"s":"1.0x","t":"1994-06","m":-0.23,"l":-0.35,"h":-0.11},{"s":"1.0x","t":"1994-08","m":-0.29,"l":-0.41,"h":-0.17},{"s":"1.0x","t":"1994-10","m":-0.27,"l":-0.39,"h":-0.15},{"s":"1.0x","t":"1994-12","m":-0.32,"l":-0.44,"h":-0.2},{"s":"1.0x","t":"1995-02","m":-0.35,"l":-0.47,"h":-0.23},{"s":"1.0x","t":"1995-04","m":-0.3,"l":-0.42,"h":-0.18},{"s":"1.0x","t":"1995-06","m":-0.28,"l":-0.4,"h":-0.16},{"s":"1.0x","t":"1995-08","m":-0.25,"l":-0.37,"h":-0.13},{"s":"1.0x","t":"1995-10","m":-0.2,"l":-0.32,"h":-0.08},{"s":"1.0x","t":"1996-01","m":-0.13,"l":-0.25,"h":-0.01},
      {"s":"1.5x","t":"1991-02","m":-0.03,"l":-0.17,"h":0.11},{"s":"1.5x","t":"1991-04","m":0.04,"l":-0.1,"h":0.18},{"s":"1.5x","t":"1991-06","m":-0.1,"l":-0.24,"h":0.04},{"s":"1.5x","t":"1991-08","m":-0.27,"l":-0.41,"h":-0.13},{"s":"1.5x","t":"1991-10","m":-0.43,"l":-0.57,"h":-0.29},{"s":"1.5x","t":"1991-12","m":-0.53,"l":-0.67,"h":-0.39},{"s":"1.5x","t":"1992-02","m":-0.58,"l":-0.72,"h":-0.44},{"s":"1.5x","t":"1992-04","m":-0.62,"l":-0.76,"h":-0.48},{"s":"1.5x","t":"1992-06","m":-0.78,"l":-0.92,"h":-0.64},{"s":"1.5x","t":"1992-08","m":-0.92,"l":-1.06,"h":-0.78},{"s":"1.5x","t":"1992-10","m":-0.78,"l":-0.92,"h":-0.64},{"s":"1.5x","t":"1992-12","m":-0.6,"l":-0.74,"h":-0.46},{"s":"1.5x","t":"1993-02","m":-0.57,"l":-0.71,"h":-0.43},{"s":"1.5x","t":"1993-04","m":-0.48,"l":-0.62,"h":-0.34},{"s":"1.5x","t":"1993-06","m":-0.68,"l":-0.82,"h":-0.54},{"s":"1.5x","t":"1993-08","m":-0.76,"l":-0.9,"h":-0.62},{"s":"1.5x","t":"1993-10","m":-0.6,"l":-0.74,"h":-0.46},{"s":"1.5x","t":"1993-12","m":-0.38,"l":-0.52,"h":-0.24},{"s":"1.5x","t":"1994-02","m":-0.38,"l":-0.52,"h":-0.24},{"s":"1.5x","t":"1994-04","m":-0.35,"l":-0.49,"h":-0.21},{"s":"1.5x","t":"1994-06","m":-0.38,"l":-0.52,"h":-0.24},{"s":"1.5x","t":"1994-08","m":-0.42,"l":-0.56,"h":-0.28},{"s":"1.5x","t":"1994-10","m":-0.34,"l":-0.48,"h":-0.2},{"s":"1.5x","t":"1994-12","m":-0.25,"l":-0.39,"h":-0.11},{"s":"1.5x","t":"1995-02","m":-0.2,"l":-0.34,"h":-0.06},{"s":"1.5x","t":"1995-04","m":-0.3,"l":-0.44,"h":-0.16},{"s":"1.5x","t":"1995-06","m":-0.25,"l":-0.39,"h":-0.11},{"s":"1.5x","t":"1995-08","m":-0.22,"l":-0.36,"h":-0.08},{"s":"1.5x","t":"1995-10","m":-0.18,"l":-0.32,"h":-0.04},{"s":"1.5x","t":"1996-01","m":-0.21,"l":-0.35,"h":-0.07}
    ]
  },
  "bounds": "flush",
  "columns": 3,
  "spacing": {"row": 40, "column": 63.5},
  "concat": [
    {
      "width": 339, "height": 196,
      "data": {"name": "AOD"},
      "layer": [
        {"data": {"values": [{"d": "1991-01-01"}, {"d": "1993-01-01"}, {"d": "1995-01-01"}]}, "mark": {"type": "rule", "color": "#EBEBEB", "strokeWidth": 0.7}, "encoding": {"x": {"field": "d", "type": "temporal", "title": null}}},
        {"data": {"values": [{"g": 5}, {"g": 15}, {"g": 25}, {"g": 35}]}, "mark": {"type": "rule", "color": "#EBEBEB", "strokeWidth": 0.7}, "encoding": {"y": {"field": "g", "type": "quantitative", "title": null}}},
        {"mark": {"type": "area", "opacity": 0.2},
         "encoding": {
           "x": {"field": "t", "type": "temporal", "title": null, "scale": {"domain": [{"year": 1990, "month": 11, "date": 2}, {"year": 1996, "month": 3, "date": 22}], "nice": false}, "axis": {"format": "%Y", "values": [{"year": 1992}, {"year": 1994}, {"year": 1996}]}},
           "y": {"field": "l", "type": "quantitative", "stack": null, "title": null, "scale": {"domain": [-2.15, 44.37], "zero": false, "nice": false}, "axis": {"values": [0, 10, 20, 30], "format": "d"}},
           "y2": {"field": "h"},
           "fill": {"field": "s", "type": "nominal", "scale": {"range": ["#440154", "#31688E", "#35B779", "#FDE725"]}, "legend": {"title": "size", "symbolType": "square", "symbolOpacity": 0.2, "symbolStrokeWidth": 0}}
         }},
        {"mark": {"type": "line", "strokeWidth": 1.9},
         "encoding": {
           "x": {"field": "t", "type": "temporal", "title": null},
           "y": {"field": "m", "type": "quantitative", "title": null},
           "stroke": {"field": "s", "type": "nominal", "scale": {"domain": ["0.0x", "0.5x", "1.0x", "1.5x"], "range": ["#440154", "#31688E", "#35B779", "#FDE725"]}, "legend": {"title": "size ", "symbolType": "stroke", "symbolStrokeWidth": 1.9, "titleOpacity": 0, "labelOpacity": 0}}
         }},
        {"data": {"values": [{}]}, "mark": {"type": "rule", "color": "black", "strokeWidth": 1.8}, "encoding": {"y": {"datum": 0, "type": "quantitative"}}},
        {"data": {"values": [{}]}, "mark": {"type": "rule", "color": "black", "strokeWidth": 1.8, "strokeDash": [8, 5.7], "strokeDashOffset": 11.4}, "encoding": {"x": {"datum": {"year": 1991, "month": 6, "date": 15}, "type": "temporal"}}},
        {"data": {"values": [{}]}, "mark": {"type": "rect", "fill": "#D9D9D9", "stroke": "#333333", "strokeWidth": 1.1}, "encoding": {"y": {"datum": 36.3, "type": "quantitative"}, "y2": {"datum": 44.37}}},
        {"data": {"values": [{"lab": "AOD"}]}, "mark": {"type": "text", "fontSize": 18, "color": "#1A1A1A"}, "encoding": {"y": {"datum": 40.335, "type": "quantitative"}, "text": {"field": "lab", "type": "nominal"}}}
      ]
    },
    {
      "width": 339, "height": 196,
      "data": {"name": "LWTUP"},
      "layer": [
        {"data": {"values": [{"d": "1991-01-01"}, {"d": "1993-01-01"}, {"d": "1995-01-01"}]}, "mark": {"type": "rule", "color": "#EBEBEB", "strokeWidth": 0.7}, "encoding": {"x": {"field": "d", "type": "temporal", "title": null}}},
        {"data": {"values": [{"g": -0.625}, {"g": -0.375}, {"g": -0.125}, {"g": 0.125}]}, "mark": {"type": "rule", "color": "#EBEBEB", "strokeWidth": 0.7}, "encoding": {"y": {"field": "g", "type": "quantitative", "title": null}}},
        {"mark": {"type": "area", "opacity": 0.2},
         "encoding": {
           "x": {"field": "t", "type": "temporal", "title": null, "scale": {"domain": [{"year": 1990, "month": 11, "date": 2}, {"year": 1996, "month": 3, "date": 22}], "nice": false}, "axis": {"format": "%Y", "values": [{"year": 1992}, {"year": 1994}, {"year": 1996}]}},
           "y": {"field": "l", "type": "quantitative", "stack": null, "title": null, "scale": {"domain": [-0.849, 0.4432], "zero": false, "nice": false}, "axis": {"values": [-0.75, -0.5, -0.25, 0], "format": ".2f"}},
           "y2": {"field": "h"},
           "fill": {"field": "s", "type": "nominal", "scale": {"range": ["#440154", "#31688E", "#35B779", "#FDE725"]}, "legend": {"title": "size", "symbolType": "square", "symbolOpacity": 0.2, "symbolStrokeWidth": 0}}
         }},
        {"mark": {"type": "line", "strokeWidth": 1.9},
         "encoding": {
           "x": {"field": "t", "type": "temporal", "title": null},
           "y": {"field": "m", "type": "quantitative", "title": null},
           "stroke": {"field": "s", "type": "nominal", "scale": {"domain": ["0.0x", "0.5x", "1.0x", "1.5x"], "range": ["#440154", "#31688E", "#35B779", "#FDE725"]}, "legend": {"title": "size ", "symbolType": "stroke", "symbolStrokeWidth": 1.9, "titleOpacity": 0, "labelOpacity": 0}}
         }},
        {"data": {"values": [{}]}, "mark": {"type": "rule", "color": "black", "strokeWidth": 1.8}, "encoding": {"y": {"datum": 0, "type": "quantitative"}}},
        {"data": {"values": [{}]}, "mark": {"type": "rule", "color": "black", "strokeWidth": 1.8, "strokeDash": [8, 5.7], "strokeDashOffset": 11.4}, "encoding": {"x": {"datum": {"year": 1991, "month": 6, "date": 15}, "type": "temporal"}}},
        {"data": {"values": [{}]}, "mark": {"type": "rect", "fill": "#D9D9D9", "stroke": "#333333", "strokeWidth": 1.1}, "encoding": {"y": {"datum": 0.219, "type": "quantitative"}, "y2": {"datum": 0.4432}}},
        {"data": {"values": [{"lab": "LWTUP"}]}, "mark": {"type": "text", "fontSize": 18, "color": "#1A1A1A"}, "encoding": {"y": {"datum": 0.3311, "type": "quantitative"}, "text": {"field": "lab", "type": "nominal"}}}
      ]
    },
    {
      "width": 339, "height": 196,
      "data": {"name": "SWGDNCLR"},
      "layer": [
        {"data": {"values": [{"d": "1991-01-01"}, {"d": "1993-01-01"}, {"d": "1995-01-01"}]}, "mark": {"type": "rule", "color": "#EBEBEB", "strokeWidth": 0.7}, "encoding": {"x": {"field": "d", "type": "temporal", "title": null}}},
        {"data": {"values": [{"g": -1.0}, {"g": -0.6}, {"g": -0.2}, {"g": 0.2}]}, "mark": {"type": "rule", "color": "#EBEBEB", "strokeWidth": 0.7}, "encoding": {"y": {"field": "g", "type": "quantitative", "title": null}}},
        {"mark": {"type": "area", "opacity": 0.2},
         "encoding": {
           "x": {"field": "t", "type": "temporal", "title": null, "scale": {"domain": [{"year": 1990, "month": 11, "date": 2}, {"year": 1996, "month": 3, "date": 22}], "nice": false}, "axis": {"format": "%Y", "values": [{"year": 1992}, {"year": 1994}, {"year": 1996}]}},
           "y": {"field": "l", "type": "quantitative", "stack": null, "title": null, "scale": {"domain": [-1.262, 0.5492], "zero": false, "nice": false}, "axis": {"values": [-1.2, -0.8, -0.4, 0], "format": ".1f"}},
           "y2": {"field": "h"},
           "fill": {"field": "s", "type": "nominal", "scale": {"range": ["#440154", "#31688E", "#35B779", "#FDE725"]}, "legend": {"title": "size", "symbolType": "square", "symbolOpacity": 0.2, "symbolStrokeWidth": 0}}
         }},
        {"mark": {"type": "line", "strokeWidth": 1.9},
         "encoding": {
           "x": {"field": "t", "type": "temporal", "title": null},
           "y": {"field": "m", "type": "quantitative", "title": null},
           "stroke": {"field": "s", "type": "nominal", "scale": {"domain": ["0.0x", "0.5x", "1.0x", "1.5x"], "range": ["#440154", "#31688E", "#35B779", "#FDE725"]}, "legend": {"title": "size ", "symbolType": "stroke", "symbolStrokeWidth": 1.9, "titleOpacity": 0, "labelOpacity": 0}}
         }},
        {"data": {"values": [{}]}, "mark": {"type": "rule", "color": "black", "strokeWidth": 1.8}, "encoding": {"y": {"datum": 0, "type": "quantitative"}}},
        {"data": {"values": [{}]}, "mark": {"type": "rule", "color": "black", "strokeWidth": 1.8, "strokeDash": [8, 5.7], "strokeDashOffset": 11.4}, "encoding": {"x": {"datum": {"year": 1991, "month": 6, "date": 15}, "type": "temporal"}}},
        {"data": {"values": [{}]}, "mark": {"type": "rect", "fill": "#D9D9D9", "stroke": "#333333", "strokeWidth": 1.1}, "encoding": {"y": {"datum": 0.235, "type": "quantitative"}, "y2": {"datum": 0.5492}}},
        {"data": {"values": [{"lab": "SWGDNCLR"}]}, "mark": {"type": "text", "fontSize": 18, "color": "#1A1A1A"}, "encoding": {"y": {"datum": 0.3921, "type": "quantitative"}, "text": {"field": "lab", "type": "nominal"}}}
      ]
    },
    {
      "width": 339, "height": 196,
      "data": {"name": "T050"},
      "layer": [
        {"data": {"values": [{"d": "1991-01-01"}, {"d": "1993-01-01"}, {"d": "1995-01-01"}]}, "mark": {"type": "rule", "color": "#EBEBEB", "strokeWidth": 0.7}, "encoding": {"x": {"field": "d", "type": "temporal", "title": null}}},
        {"data": {"values": [{"g": -1.25}, {"g": 1.25}, {"g": 3.75}, {"g": 6.25}, {"g": 8.75}]}, "mark": {"type": "rule", "color": "#EBEBEB", "strokeWidth": 0.7}, "encoding": {"y": {"field": "g", "type": "quantitative", "title": "Global Average Normalized Anomalies"}}},
        {"mark": {"type": "area", "opacity": 0.2},
         "encoding": {
           "x": {"field": "t", "type": "temporal", "title": null, "scale": {"domain": [{"year": 1990, "month": 11, "date": 2}, {"year": 1996, "month": 3, "date": 22}], "nice": false}, "axis": {"format": "%Y", "values": [{"year": 1992}, {"year": 1994}, {"year": 1996}]}},
           "y": {"field": "l", "type": "quantitative", "stack": null, "title": "Global Average Normalized Anomalies", "scale": {"domain": [-1.74, 12.21], "zero": false, "nice": false}, "axis": {"values": [0, 2.5, 5, 7.5], "format": ".1f", "titleX": -48, "titleY": -2, "titleAngle": 270, "titleBaseline": "alphabetic", "titleAlign": "center"}},
           "y2": {"field": "h"},
           "fill": {"field": "s", "type": "nominal", "scale": {"range": ["#440154", "#31688E", "#35B779", "#FDE725"]}, "legend": {"title": "size", "symbolType": "square", "symbolOpacity": 0.2, "symbolStrokeWidth": 0}}
         }},
        {"mark": {"type": "line", "strokeWidth": 1.9},
         "encoding": {
           "x": {"field": "t", "type": "temporal", "title": null},
           "y": {"field": "m", "type": "quantitative", "title": "Global Average Normalized Anomalies"},
           "stroke": {"field": "s", "type": "nominal", "scale": {"domain": ["0.0x", "0.5x", "1.0x", "1.5x"], "range": ["#440154", "#31688E", "#35B779", "#FDE725"]}, "legend": {"title": "size ", "symbolType": "stroke", "symbolStrokeWidth": 1.9, "titleOpacity": 0, "labelOpacity": 0}}
         }},
        {"data": {"values": [{}]}, "mark": {"type": "rule", "color": "black", "strokeWidth": 1.8}, "encoding": {"y": {"datum": 0, "type": "quantitative"}}},
        {"data": {"values": [{}]}, "mark": {"type": "rule", "color": "black", "strokeWidth": 1.8, "strokeDash": [8, 5.7], "strokeDashOffset": 11.4}, "encoding": {"x": {"datum": {"year": 1991, "month": 6, "date": 15}, "type": "temporal"}}},
        {"data": {"values": [{}]}, "mark": {"type": "rect", "fill": "#D9D9D9", "stroke": "#333333", "strokeWidth": 1.1}, "encoding": {"y": {"datum": 9.79, "type": "quantitative"}, "y2": {"datum": 12.21}}},
        {"data": {"values": [{"lab": "T050"}]}, "mark": {"type": "text", "fontSize": 18, "color": "#1A1A1A"}, "encoding": {"y": {"datum": 11.0, "type": "quantitative"}, "text": {"field": "lab", "type": "nominal"}}}
      ]
    },
    {
      "width": 339, "height": 196,
      "data": {"name": "T2M"},
      "layer": [
        {"data": {"values": [{"d": "1991-01-01"}, {"d": "1993-01-01"}, {"d": "1995-01-01"}]}, "mark": {"type": "rule", "color": "#EBEBEB", "strokeWidth": 0.7}, "encoding": {"x": {"field": "d", "type": "temporal", "title": "date"}}},
        {"data": {"values": [{"g": -1.0}, {"g": -0.6}, {"g": -0.2}, {"g": 0.2}]}, "mark": {"type": "rule", "color": "#EBEBEB", "strokeWidth": 0.7}, "encoding": {"y": {"field": "g", "type": "quantitative", "title": null}}},
        {"mark": {"type": "area", "opacity": 0.2},
         "encoding": {
           "x": {"field": "t", "type": "temporal", "title": "date", "scale": {"domain": [{"year": 1990, "month": 11, "date": 2}, {"year": 1996, "month": 3, "date": 22}], "nice": false}, "axis": {"format": "%Y", "values": [{"year": 1992}, {"year": 1994}, {"year": 1996}], "titlePadding": -4}},
           "y": {"field": "l", "type": "quantitative", "stack": null, "title": null, "scale": {"domain": [-1.172, 0.7517], "zero": false, "nice": false}, "axis": {"values": [-0.8, -0.4, 0, 0.4], "format": ".1f"}},
           "y2": {"field": "h"},
           "fill": {"field": "s", "type": "nominal", "scale": {"range": ["#440154", "#31688E", "#35B779", "#FDE725"]}, "legend": {"title": "size", "symbolType": "square", "symbolOpacity": 0.2, "symbolStrokeWidth": 0}}
         }},
        {"mark": {"type": "line", "strokeWidth": 1.9},
         "encoding": {
           "x": {"field": "t", "type": "temporal", "title": "date"},
           "y": {"field": "m", "type": "quantitative", "title": null},
           "stroke": {"field": "s", "type": "nominal", "scale": {"domain": ["0.0x", "0.5x", "1.0x", "1.5x"], "range": ["#440154", "#31688E", "#35B779", "#FDE725"]}, "legend": {"title": "size ", "symbolType": "stroke", "symbolStrokeWidth": 1.9, "titleOpacity": 0, "labelOpacity": 0}}
         }},
        {"data": {"values": [{}]}, "mark": {"type": "rule", "color": "black", "strokeWidth": 1.8}, "encoding": {"y": {"datum": 0, "type": "quantitative"}}},
        {"data": {"values": [{}]}, "mark": {"type": "rule", "color": "black", "strokeWidth": 1.8, "strokeDash": [8, 5.7], "strokeDashOffset": 11.4}, "encoding": {"x": {"datum": {"year": 1991, "month": 6, "date": 15}, "type": "temporal"}}},
        {"data": {"values": [{}]}, "mark": {"type": "rect", "fill": "#D9D9D9", "stroke": "#333333", "strokeWidth": 1.1}, "encoding": {"y": {"datum": 0.418, "type": "quantitative"}, "y2": {"datum": 0.7517}}},
        {"data": {"values": [{"lab": "T2M"}]}, "mark": {"type": "text", "fontSize": 18, "color": "#1A1A1A"}, "encoding": {"y": {"datum": 0.5849, "type": "quantitative"}, "text": {"field": "lab", "type": "nominal"}}}
      ]
    }
  ],
  "config": {
    "font": "DejaVu Sans",
    "locale": {"number": {"decimal": ".", "thousands": ",", "grouping": [3], "currency": ["$", ""], "minus": "-"}},
    "view": {"stroke": "#333333", "strokeWidth": 1.1},
    "axis": {"domain": false, "labelFontSize": 18, "labelColor": "#4D4D4D", "tickColor": "#333333", "tickSize": 5.2, "tickWidth": 1.1, "gridColor": "#EBEBEB", "gridWidth": 1.4, "labelFlush": false, "labelOverlap": false, "titleFontSize": 22.5, "titleFontWeight": "normal", "titleColor": "black"},
    "axisX": {"labelPadding": 5},
    "axisY": {"labelPadding": 4},
    "legend": {"orient": "none", "legendX": 1180, "legendY": 152.5, "padding": 0, "titleFontSize": 22.5, "titleFontWeight": "normal", "titleColor": "black", "titlePadding": 10, "labelFontSize": 18, "labelColor": "black", "labelOffset": 11.5, "symbolSize": 870, "rowPadding": 3.2}
  }
}
